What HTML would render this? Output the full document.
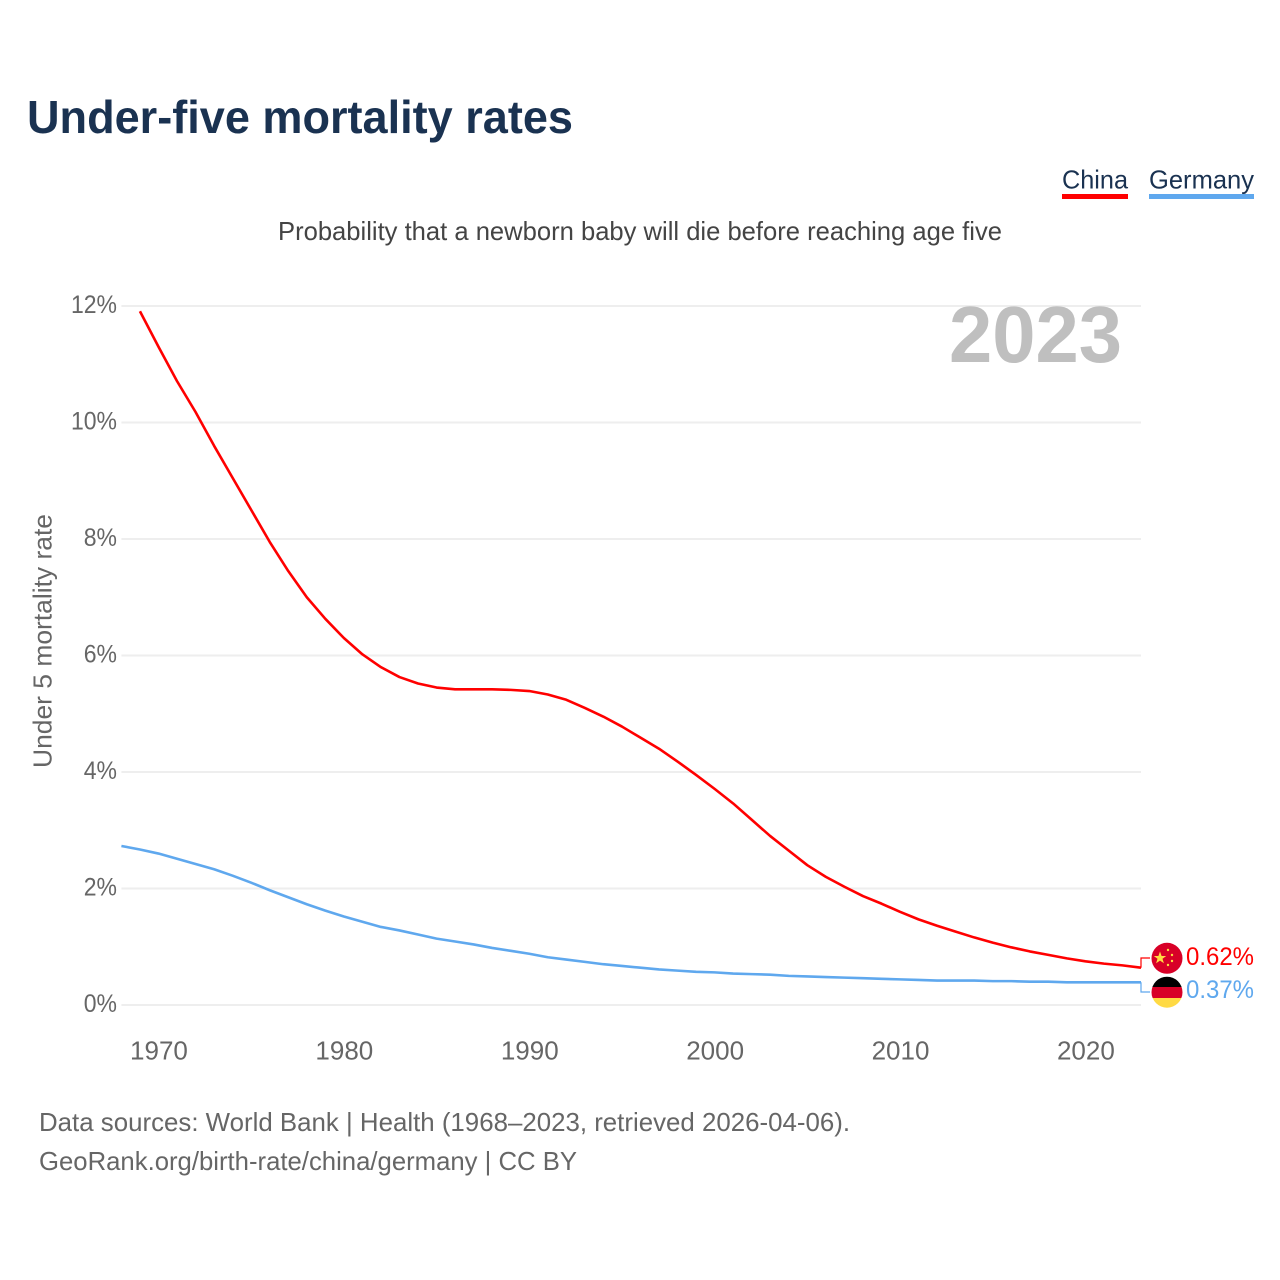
<!DOCTYPE html>
<html lang="en">
<head>
<meta charset="utf-8">
<title>Under-five mortality rates</title>
<style>
html,body{margin:0;padding:0;background:#fff;}
svg{display:block;}
text{font-family:"Liberation Sans",sans-serif;}
</style>
</head>
<body>
<svg id="chart" xmlns="http://www.w3.org/2000/svg" width="1280" height="1280" viewBox="0 0 1280 1280">
  <rect width="1280" height="1280" fill="#fff"/>
  <text x="27" y="133" font-size="46" font-weight="700" fill="#1a3251" textLength="546" lengthAdjust="spacingAndGlyphs">Under-five mortality rates</text>
  <g>
    <text x="1062" y="188.5" font-size="26" fill="#1a3251" textLength="66" lengthAdjust="spacingAndGlyphs">China</text>
    <rect x="1062" y="194" width="66" height="5" fill="#ff0000"/>
  </g>
  <g>
    <text x="1149" y="188.5" font-size="26" fill="#1a3251" textLength="105" lengthAdjust="spacingAndGlyphs">Germany</text>
    <rect x="1149" y="194" width="105" height="5" fill="#5fa8ee"/>
  </g>
  <text x="278" y="240" font-size="26" fill="#444" textLength="724" lengthAdjust="spacingAndGlyphs">Probability that a newborn baby will die before reaching age five</text>
  <g id="grid"></g>
  <g id="yticks"></g>
  <g id="xticks"></g>
  <text x="949" y="362" font-size="80" font-weight="700" fill="#bfbfbf" textLength="173" lengthAdjust="spacingAndGlyphs">2023</text>
  <text transform="translate(51.5,768) rotate(-90)" x="0" y="0" font-size="26" fill="#666" textLength="254" lengthAdjust="spacingAndGlyphs">Under 5 mortality rate</text>
  <g id="series"></g>
  <g id="ends"></g>
  <defs>
    <clipPath id="clip-cn"><circle cx="1167" cy="958.3" r="15.5"/></clipPath>
    <clipPath id="clip-de"><circle cx="1167" cy="992.2" r="15.5"/></clipPath>
  </defs>
  <g clip-path="url(#clip-cn)">
    <rect x="1151" y="942" width="32" height="33" fill="#d80027"/>
    <polygon points="1160,951.5 1161.6,956 1166.2,956 1162.5,958.8 1163.9,963.3 1160,960.6 1156.1,963.3 1157.5,958.8 1153.8,956 1158.4,956" fill="#ffda44"/>
    <circle cx="1168" cy="950" r="1.2" fill="#ffda44"/>
    <circle cx="1172" cy="955" r="1.2" fill="#ffda44"/>
    <circle cx="1172" cy="961" r="1.2" fill="#ffda44"/>
    <circle cx="1168" cy="965" r="1.2" fill="#ffda44"/>
  </g>
  <g clip-path="url(#clip-de)">
    <rect x="1151" y="976" width="32" height="11" fill="#000"/>
    <rect x="1151" y="987" width="32" height="11" fill="#d80027"/>
    <rect x="1151" y="998" width="32" height="10" fill="#ffda44"/>
  </g>
  <text x="39" y="1131" font-size="26" fill="#666" textLength="811" lengthAdjust="spacingAndGlyphs">Data sources: World Bank | Health (1968–2023, retrieved 2026-04-06).</text>
  <text x="39" y="1170" font-size="26" fill="#666" textLength="538" lengthAdjust="spacingAndGlyphs">GeoRank.org/birth-rate/china/germany | CC BY</text>
</svg>
<script>
const yTickValues = [0, 2, 4, 6, 8, 10, 12];
const xTickYears = [1970, 1980, 1990, 2000, 2010, 2020];
const chinaYears = [1969,1970,1971,1972,1973,1974,1975,1976,1977,1978,1979,1980,1981,1982,1983,1984,1985,1986,1987,1988,1989,1990,1991,1992,1993,1994,1995,1996,1997,1998,1999,2000,2001,2002,2003,2004,2005,2006,2007,2008,2009,2010,2011,2012,2013,2014,2015,2016,2017,2018,2019,2020,2021,2022,2023];
const chinaValues = [11.91,11.3,10.71,10.18,9.6,9.05,8.5,7.95,7.45,7.0,6.63,6.3,6.02,5.8,5.63,5.52,5.45,5.42,5.42,5.42,5.41,5.39,5.33,5.24,5.1,4.95,4.78,4.59,4.4,4.18,3.95,3.71,3.46,3.18,2.9,2.65,2.4,2.2,2.03,1.87,1.74,1.6,1.47,1.36,1.26,1.16,1.07,0.99,0.92,0.86,0.8,0.75,0.71,0.68,0.64];
const germanyYears = [1968,1969,1970,1971,1972,1973,1974,1975,1976,1977,1978,1979,1980,1981,1982,1983,1984,1985,1986,1987,1988,1989,1990,1991,1992,1993,1994,1995,1996,1997,1998,1999,2000,2001,2002,2003,2004,2005,2006,2007,2008,2009,2010,2011,2012,2013,2014,2015,2016,2017,2018,2019,2020,2021,2022,2023];
const germanyValues = [2.73,2.67,2.6,2.51,2.42,2.33,2.22,2.1,1.97,1.85,1.73,1.62,1.52,1.43,1.34,1.28,1.21,1.14,1.09,1.04,0.98,0.93,0.88,0.82,0.78,0.74,0.7,0.67,0.64,0.61,0.59,0.57,0.56,0.54,0.53,0.52,0.5,0.49,0.48,0.47,0.46,0.45,0.44,0.43,0.42,0.42,0.42,0.41,0.41,0.4,0.4,0.39,0.39,0.39,0.39,0.39];
const chinaLabel = "0.62%";
const germanyLabel = "0.37%";

const NS = "http://www.w3.org/2000/svg";
const plotLeft = 121.4, plotRight = 1141;
const xScale = yr => plotLeft + (yr - 1968) * (plotRight - plotLeft) / (2023 - 1968);
const yScale = v => 1005 - v * 58.25;

function make(tag, attrs, parent, txt) {
  const el = document.createElementNS(NS, tag);
  for (const k in attrs) el.setAttribute(k, attrs[k]);
  if (txt !== undefined) el.textContent = txt;
  parent.appendChild(el);
  return el;
}
const grid = document.getElementById("grid");
const yticks = document.getElementById("yticks");
const xticks = document.getElementById("xticks");
const series = document.getElementById("series");
const ends = document.getElementById("ends");

yTickValues.forEach(v => {
  const line = make("line", {x1: plotLeft, x2: plotRight, y1: yScale(v), y2: yScale(v), stroke: "#eeeeee", "stroke-width": 2}, grid);
  
  
  const t = make("text", {x: 117, y: yScale(v) + 7, "text-anchor": "end", "font-size": 25, fill: "#666", lengthAdjust: "spacingAndGlyphs"}, yticks, v + "%");
  
  
  t.setAttribute('textLength', t.getComputedTextLength() * 0.92);
});
xTickYears.forEach(yr => {
  const t = make("text", {x: xScale(yr) + 0.5, y: 1059.5, "text-anchor": "middle", "font-size": 26, fill: "#666"}, xticks, String(yr));
  
  
});
function linePath(years, values) {
  return years.map((yr, i) => (i ? "L" : "M") + xScale(yr).toFixed(2) + " " + yScale(values[i]).toFixed(2)).join(" ");
}
const germanyLine = make("path", {d: linePath(germanyYears, germanyValues), fill: "none", stroke: "#5fa8ee", "stroke-width": 2.6, "stroke-linejoin": "round"}, series);


const chinaLine = make("path", {d: linePath(chinaYears, chinaValues), fill: "none", stroke: "#ff0000", "stroke-width": 2.6, "stroke-linejoin": "round"}, series);



const cEnd = yScale(chinaValues[chinaValues.length - 1]);
const gEnd = yScale(germanyValues[germanyValues.length - 1]);
const chinaLink = make("path", {d: `M${plotRight} ${cEnd} V958 H1150`, fill: "none", stroke: "#ff0000", "stroke-width": 1.2}, ends);


const germanyLink = make("path", {d: `M${plotRight} ${gEnd} V992 H1150`, fill: "none", stroke: "#5fa8ee", "stroke-width": 1.2}, ends);


const chinaText = make("text", {x: 1186, y: 965, "font-size": 25, fill: "#ff0000", textLength: 68, lengthAdjust: "spacingAndGlyphs"}, ends, chinaLabel);


const germanyText = make("text", {x: 1186, y: 998, "font-size": 25, fill: "#5fa8ee", textLength: 68, lengthAdjust: "spacingAndGlyphs"}, ends, germanyLabel);


</script>
</body>
</html>
